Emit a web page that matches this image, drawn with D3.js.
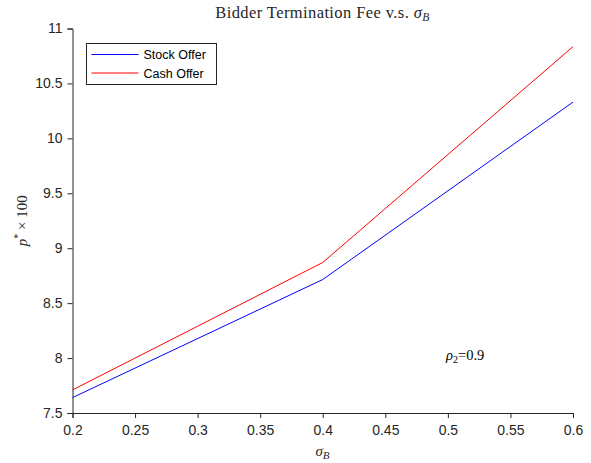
<!DOCTYPE html>
<html>
<head>
<meta charset="utf-8">
<script src="https://cdn.jsdelivr.net/npm/d3@7"></script>
<style>
  body { margin: 0; background: #fff; }
  svg { display: block; }
</style>
</head>
<body>
<div id="chart"></div>
<script>
const sigmaB = [0.2, 0.4, 0.6];
const stockOffer = [7.64, 8.715, 10.33];
const cashOffer = [7.71, 8.87, 10.835];
const xTicks = [0.2, 0.25, 0.3, 0.35, 0.4, 0.45, 0.5, 0.55, 0.6];
const yTicks = [7.5, 8, 8.5, 9, 9.5, 10, 10.5, 11];
const seriesNames = ["Stock Offer", "Cash Offer"];
const seriesColors = ["#0000ff", "#ff0000"];

const W = 591, H = 463;
const margin = { left: 72.5, right: 18, top: 28.5, bottom: 50 };
const SANS = "Liberation Sans, Arial, sans-serif";
const SERIF = "Liberation Serif, Times New Roman, serif";
const INK = "#262626";

const svg = d3.select("#chart").append("svg").attr("width", W).attr("height", H);

const x = d3.scaleLinear().domain([0.2, 0.6]).range([margin.left, W - margin.right]);
const y = d3.scaleLinear().domain([7.5, 11]).range([H - margin.bottom, margin.top]);

const fmt = (d) => String(+d.toFixed(2));

const xAxis = svg.append("g")
  .attr("transform", `translate(0,${H - margin.bottom})`)
  .call(d3.axisBottom(x).tickValues(xTicks).tickFormat(fmt).tickSizeOuter(0).tickSize(5).tickPadding(7));
const yAxis = svg.append("g")
  .attr("transform", `translate(${margin.left},0)`)
  .call(d3.axisLeft(y).tickValues(yTicks).tickFormat(fmt).tickSizeOuter(0).tickSize(5).tickPadding(5));
[xAxis, yAxis].forEach((g) => {
  g.attr("font-family", SANS).attr("font-size", 14);
  g.select(".domain").attr("stroke", INK);
  g.selectAll(".tick line").attr("stroke", INK);
  g.selectAll(".tick text").attr("fill", INK);
});

const line = d3.line().x((d) => x(d[0])).y((d) => y(d[1]));
[stockOffer, cashOffer].forEach((vals, i) => {
  svg.append("path")
    .datum(sigmaB.map((s, j) => [s, vals[j]]))
    .attr("fill", "none")
    .attr("stroke", seriesColors[i])
    .attr("stroke-width", 1)
    .attr("d", line);
});

// title
const title = svg.append("text").attr("font-family", SERIF).attr("fill", INK)
  .attr("x", 322.5).attr("y", 18)
  .attr("text-anchor", "middle").attr("font-size", 16.5).attr("letter-spacing", 0.4);
title.append("tspan").text("Bidder Termination Fee v.s. ");
title.append("tspan").attr("font-style", "italic").text("σ");
title.append("tspan").attr("font-style", "italic").attr("font-size", 11.5).attr("dy", 3).text("B");

// x label
const xl = svg.append("text").attr("font-family", SERIF).attr("fill", INK)
  .attr("x", 322.5).attr("y", 456)
  .attr("text-anchor", "middle").attr("font-size", 15);
xl.append("tspan").attr("font-style", "italic").text("σ");
xl.append("tspan").attr("font-style", "italic").attr("font-size", 11).attr("dy", 3).text("B");

// y label
const yl = svg.append("text").attr("font-family", SERIF).attr("fill", INK)
  .attr("transform", `translate(27,${(margin.top + H - margin.bottom) / 2}) rotate(-90)`)
  .attr("text-anchor", "middle").attr("font-size", 15);
yl.append("tspan").attr("font-style", "italic").text("p");
yl.append("tspan").attr("font-size", 10).attr("dy", -6).text("*");
yl.append("tspan").attr("dy", 6).text(" × 100");

// annotation
const ann = svg.append("text").attr("font-family", SERIF).attr("fill", "#000")
  .attr("x", 446).attr("y", 360).attr("font-size", 14.5);
ann.append("tspan").attr("font-style", "italic").text("ρ");
ann.append("tspan").attr("font-size", 10).attr("dy", 3).text("2");
ann.append("tspan").attr("dy", -3).text("=0.9");

// legend
const lg = svg.append("g").attr("transform", "translate(86.5,43.5)");
lg.append("rect").attr("width", 130).attr("height", 41)
  .attr("fill", "#fff").attr("stroke", INK).attr("stroke-width", 1);
seriesNames.forEach((name, i) => {
  const ly = 11 + i * 18.5;
  lg.append("line").attr("x1", 5).attr("x2", 52).attr("y1", ly).attr("y2", ly)
    .attr("stroke", seriesColors[i]).attr("stroke-width", 1);
  lg.append("text").attr("x", 57).attr("y", ly + 4.5)
    .attr("font-family", SANS).attr("font-size", 12.5)
    .attr("fill", "#000").text(name);
});
</script>
</body>
</html>
